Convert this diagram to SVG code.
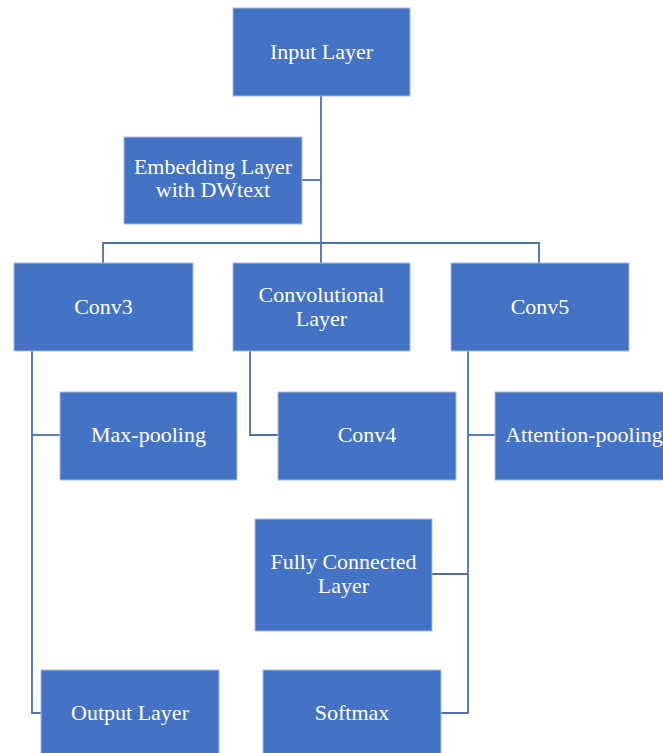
<svg xmlns="http://www.w3.org/2000/svg" width="663" height="753" viewBox="0 0 663 753">
<style>
.box{fill:#4472C4;stroke:#a9bde6;stroke-width:1}
.t{font-family:'Liberation Serif','DejaVu Serif',serif;font-size:22px;fill:#ffffff;text-anchor:middle}
.c{fill:none;stroke:#4a6fb8;stroke-width:1.8}
</style>
<rect width="663" height="753" fill="#ffffff"/>
<g id="connectors">
<path class="c" d="M321 96 V263"/>
<path class="c" d="M302 180 H321"/>
<path class="c" d="M103 263 V243 H539 V263"/>
<path class="c" d="M32 351 V713 H41"/>
<path class="c" d="M32 435 H60"/>
<path class="c" d="M250 351 V435 H278"/>
<path class="c" d="M468 351 V713 H441"/>
<path class="c" d="M468 435 H495"/>
<path class="c" d="M432 574 H468"/>
</g>
<g id="input"><rect class="box" x="233" y="8" width="177" height="88"/><text class="t" x="321.5" y="59">Input Layer</text></g>
<g id="embedding"><rect class="box" x="124" y="137" width="178" height="87"/><text class="t" x="213" y="174">Embedding Layer</text><text class="t" x="213" y="197">with DWtext</text></g>
<g id="conv3"><rect class="box" x="14" y="263" width="179" height="88"/><text class="t" x="103.5" y="314">Conv3</text></g>
<g id="convlayer"><rect class="box" x="233" y="263" width="177" height="88"/><text class="t" x="321.5" y="302">Convolutional</text><text class="t" x="321.5" y="326">Layer</text></g>
<g id="conv5"><rect class="box" x="451" y="263" width="178" height="88"/><text class="t" x="540" y="314">Conv5</text></g>
<g id="maxpool"><rect class="box" x="60" y="392" width="177" height="88"/><text class="t" x="148.5" y="442">Max-pooling</text></g>
<g id="conv4"><rect class="box" x="278" y="392" width="178" height="88"/><text class="t" x="367" y="442">Conv4</text></g>
<g id="attention"><rect class="box" x="495" y="392" width="178" height="88"/><text class="t" x="584" y="442">Attention-pooling</text></g>
<g id="fc"><rect class="box" x="255" y="519" width="177" height="112"/><text class="t" x="343.5" y="569">Fully Connected</text><text class="t" x="343.5" y="593">Layer</text></g>
<g id="output"><rect class="box" x="41" y="670" width="178" height="90"/><text class="t" x="130" y="720">Output Layer</text></g>
<g id="softmax"><rect class="box" x="263" y="670" width="178" height="90"/><text class="t" x="352" y="720">Softmax</text></g>
</svg>
